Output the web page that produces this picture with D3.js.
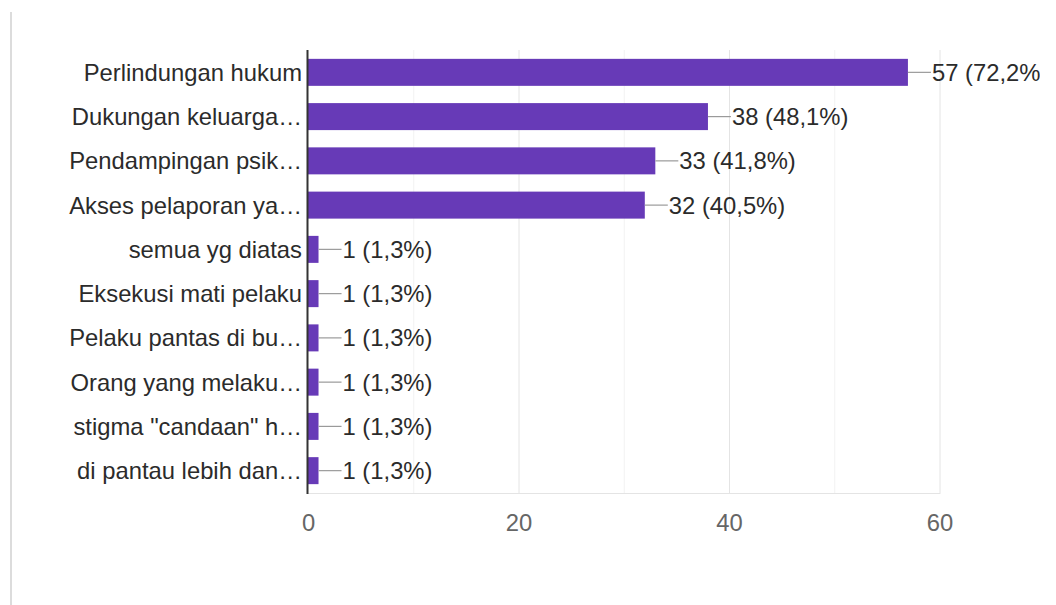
<!DOCTYPE html>
<html>
<head>
<meta charset="utf-8">
<style>
  body { margin: 0; background: #fff; }
  svg { display: block; font-family: "Liberation Sans", Arial, sans-serif; }
  .grid line { stroke: #e4e4e4; stroke-width: 1px; }
  .grid.minor line { stroke: #f2f2f2; }
  .bar { fill: #673ab7; }
  .label { fill: #2b2b2b; font-size: 23.8px; }
  .tick text { fill: #666; font-size: 23.8px; font-family: "Liberation Sans", Arial, sans-serif; }
</style>
</head>
<body>
<script src="https://cdnjs.cloudflare.com/ajax/libs/d3/7.8.5/d3.min.js"></script>
<script>
  var categories = [
    "Perlindungan hukum",
    "Dukungan keluarga…",
    "Pendampingan psik…",
    "Akses pelaporan ya…",
    "semua yg diatas",
    "Eksekusi mati pelaku",
    "Pelaku pantas di bu…",
    "Orang yang melaku…",
    "stigma \"candaan\" h…",
    "di pantau lebih dan…"
  ];
  var counts = [57, 38, 33, 32, 1, 1, 1, 1, 1, 1];
  var percents = ["72,2%", "48,1%", "41,8%", "40,5%", "1,3%", "1,3%", "1,3%", "1,3%", "1,3%", "1,3%"];
  var majorTicks = [0, 20, 40, 60];
  var minorTicks = [10, 30, 50];

  var W = 1056, H = 605;
  var m = { left: 308, right: 116.5, top: 50, bottom: 112 };

  var svg = d3.select("body").append("svg")
      .attr("width", W)
      .attr("height", H);

  // left border of the card
  svg.append("rect")
      .attr("x", 10).attr("y", 12)
      .attr("width", 2).attr("height", H - 12)
      .attr("fill", "#dcdcdc");

  svg.append("clipPath").attr("id", "clip")
    .append("rect").attr("x", 0).attr("y", 0).attr("width", 1040).attr("height", H);

  var x = d3.scaleLinear().domain([0, 60]).range([m.left, W - m.right]);
  var y = d3.scaleBand().domain(categories).range([m.top, H - m.bottom]).paddingInner(0.39).paddingOuter(0.2);

  var g = svg.append("g").attr("clip-path", "url(#clip)");

  g.append("g").attr("class", "grid minor")
    .selectAll("line").data(minorTicks).enter().append("line")
      .attr("x1", function(d) { return x(d) + 0.5; })
      .attr("x2", function(d) { return x(d) + 0.5; })
      .attr("y1", m.top).attr("y2", H - m.bottom);

  g.append("g").attr("class", "grid")
    .selectAll("line").data(majorTicks.slice(1)).enter().append("line")
      .attr("x1", function(d) { return x(d) + 0.5; })
      .attr("x2", function(d) { return x(d) + 0.5; })
      .attr("y1", m.top).attr("y2", H - m.bottom);

  g.append("line")
      .attr("x1", m.left).attr("x2", x(60) + 1)
      .attr("y1", H - m.bottom + 0.5).attr("y2", H - m.bottom + 0.5)
      .attr("stroke", "#e4e4e4");

  g.selectAll(".bar").data(counts).enter().append("rect")
      .attr("class", "bar")
      .attr("x", x(0))
      .attr("y", function(d, i) { return y(categories[i]); })
      .attr("width", function(d) { return x(d) - x(0); })
      .attr("height", y.bandwidth());

  // connector + value label
  g.selectAll(".conn").data(counts).enter().append("line")
      .attr("x1", function(d) { return x(d); })
      .attr("x2", function(d) { return x(d) + 23; })
      .attr("y1", function(d, i) { return y(categories[i]) + y.bandwidth() / 2; })
      .attr("y2", function(d, i) { return y(categories[i]) + y.bandwidth() / 2; })
      .attr("stroke", "#9a9a9a").attr("stroke-width", 1.2);

  g.selectAll(".val").data(counts).enter().append("text")
      .attr("class", "label")
      .attr("x", function(d) { return x(d) + 24; })
      .attr("y", function(d, i) { return y(categories[i]) + y.bandwidth() / 2; })
      .attr("dy", "0.36em")
      .text(function(d, i) { return d + " (" + percents[i] + ")"; });

  // category labels
  svg.selectAll(".cat").data(categories).enter().append("text")
      .attr("class", "label")
      .attr("x", m.left - 6)
      .attr("y", function(d) { return y(d) + y.bandwidth() / 2; })
      .attr("dy", "0.36em")
      .attr("text-anchor", "end")
      .text(function(d) { return d; });

  // y axis line
  svg.append("line")
      .attr("x1", m.left - 0.5).attr("x2", m.left - 0.5)
      .attr("y1", m.top).attr("y2", H - m.bottom + 1)
      .attr("stroke", "#333").attr("stroke-width", 2);

  var xAxis = svg.append("g")
      .attr("transform", "translate(0," + (H - m.bottom) + ")")
      .call(d3.axisBottom(x).tickValues(majorTicks).tickSize(0).tickPadding(21));
  xAxis.select(".domain").remove();
</script>
</body>
</html>
